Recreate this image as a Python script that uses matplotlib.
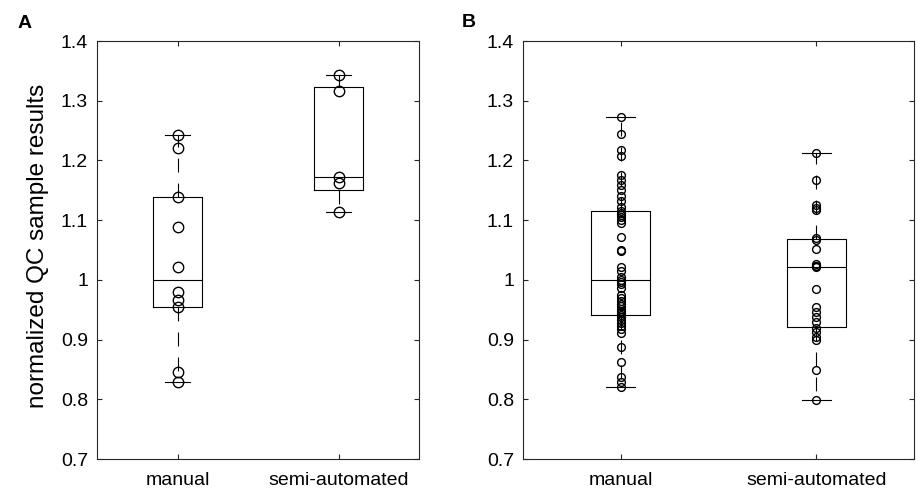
import numpy as np
import matplotlib
matplotlib.use("Agg")
import matplotlib.pyplot as plt

plt.rcParams['font.family'] = ['Liberation Sans', 'DejaVu Sans']
plt.rcParams['lines.scale_dashes'] = False

categories = ["manual", "semi-automated"]

# Panel A values
a_manual = [1.243, 1.221, 1.138, 1.089, 1.021, 0.979, 0.966, 0.955, 0.846, 0.829]
a_semi = [1.343, 1.316, 1.172, 1.163, 1.113]

# Panel B values
b_manual = [1.272, 1.245, 1.217, 1.208, 1.176, 1.167, 1.159, 1.150, 1.141, 1.132,
            1.122, 1.116, 1.112, 1.108, 1.105, 1.101, 1.096, 1.072, 1.050, 1.048,
            1.022, 1.014, 1.005, 1.000, 0.997, 0.993, 0.986, 0.975, 0.970, 0.965,
            0.960, 0.956, 0.952, 0.948, 0.944, 0.941, 0.937, 0.932, 0.927, 0.922,
            0.918, 0.911, 0.888, 0.863, 0.838, 0.829, 0.821]
b_semi = [1.212, 1.168, 1.126, 1.121, 1.117, 1.070, 1.066, 1.051, 1.026, 1.024,
          1.024, 1.022, 0.985, 0.955, 0.946, 0.937, 0.929, 0.919, 0.912, 0.905,
          0.899, 0.849, 0.799]

yticks = [0.7, 0.8, 0.9, 1.0, 1.1, 1.2, 1.3, 1.4]
yticklabels = ["0.7", "0.8", "0.9", "1", "1.1", "1.2", "1.3", "1.4"]
panel_labels = ["A", "B"]

AX_COLOR = '#262626'


def stats(vals):
    v = np.asarray(vals)
    q1, med, q3 = np.percentile(v, [25, 50, 75], method='hazen')
    iqr = q3 - q1
    lo = v[v >= q1 - 1.5 * iqr].min()
    hi = v[v <= q3 + 1.5 * iqr].max()
    return dict(med=med, q1=q1, q3=q3, whislo=lo, whishi=hi, fliers=[])


fig = plt.figure(figsize=(9.18, 4.95), dpi=100)
axA = fig.add_axes([97 / 918, 1 - 459 / 495, 322 / 918, 418 / 495])
axB = fig.add_axes([523 / 918, 1 - 459 / 495, 391 / 918, 418 / 495])

panels = [(axA, [a_manual, a_semi], 7.5), (axB, [b_manual, b_semi], 5.6)]

for ax, data, ms in panels:
    st = [stats(d) for d in data]
    ax.bxp(st, positions=[1, 2], widths=0.3, capwidths=0.15, showfliers=False,
           boxprops=dict(color='black', linewidth=0.8),
           medianprops=dict(color='black', linewidth=0.8),
           whiskerprops=dict(color='black', linewidth=0.8, linestyle=(0, (10, 8))),
           capprops=dict(color='black', linewidth=0.8))
    for i, d in enumerate(data):
        ax.plot(np.full(len(d), i + 1), d, linestyle='none', marker='o',
                markersize=ms, markerfacecolor='none', markeredgecolor='black',
                markeredgewidth=1.0, zorder=5)
    ax.set_xlim(0.5, 2.5)
    ax.set_ylim(0.7, 1.4)
    ax.set_yticks(yticks)
    ax.set_yticklabels(yticklabels)
    ax.set_xticks([1, 2])
    ax.set_xticklabels(categories)
    ax.tick_params(direction='in', top=True, right=True, length=3.3, width=0.8,
                   labelsize=14, color=AX_COLOR, labelcolor='black')
    ax.tick_params(axis='y', pad=6.5)
    ax.tick_params(axis='x', pad=9.5)
    for s in ax.spines.values():
        s.set_color(AX_COLOR)
        s.set_linewidth(0.8)

axA.set_ylabel("normalized QC sample results", fontsize=17.5)
axA.yaxis.set_label_coords((49 - 97) / 322, (459 - 246) / 418)

fig.text(18 / 918, 1 - 28 / 495, panel_labels[0], fontsize=14, fontweight='bold',
         ha='left', va='baseline')
fig.text(462 / 918, 1 - 27 / 495, panel_labels[1], fontsize=14, fontweight='bold',
         ha='left', va='baseline')

fig.savefig("out.png", dpi=100)
